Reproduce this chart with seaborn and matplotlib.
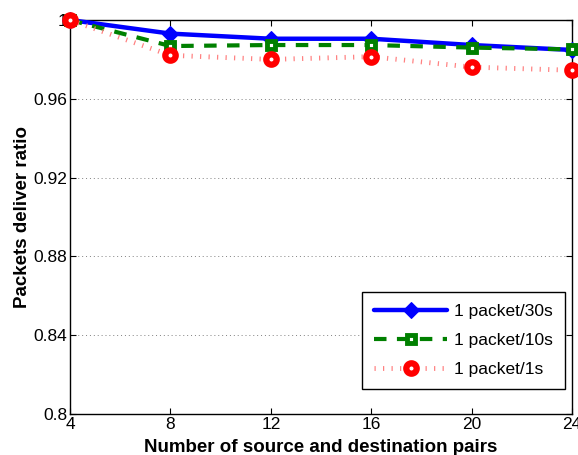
import matplotlib
matplotlib.use("Agg")
import matplotlib.pyplot as plt
import seaborn as sns
import pandas as pd

# données
pairs = [4, 8, 12, 16, 20, 24]
ratio_30s = [1.0, 0.9931, 0.9905, 0.9905, 0.9873, 0.9848]
ratio_10s = [1.0, 0.9868, 0.9873, 0.9873, 0.9860, 0.9851]
ratio_1s = [1.0, 0.9821, 0.9800, 0.9814, 0.9761, 0.9745]

sns.set_style("ticks")
plt.rcParams['font.family'] = ['Liberation Sans', 'DejaVu Sans']
plt.rcParams.update({
    'xtick.direction': 'in',
    'ytick.direction': 'in',
    'xtick.top': True,
    'ytick.right': True,
    'font.size': 12,
    'text.color': 'black',
    'axes.labelcolor': 'black',
    'xtick.color': 'black',
    'ytick.color': 'black',
    'axes.edgecolor': 'black',
})

fig = plt.figure(figsize=(5.78, 4.55), dpi=100)
ax = fig.add_axes([0.121, 0.090, 0.869, 0.866])

df = pd.DataFrame({"pairs": pairs, "30s": ratio_30s, "10s": ratio_10s, "1s": ratio_1s})

sns.lineplot(data=df, x="pairs", y="30s", ax=ax, color="blue", lw=3.2,
             marker="D", markersize=8, markerfacecolor="blue",
             markeredgecolor="blue", label="1 packet/30s", clip_on=False, zorder=3)
sns.lineplot(data=df, x="pairs", y="10s", ax=ax, color="green", lw=3,
             linestyle=(0, (3, 2.5)), marker="s", markersize=6,
             markerfacecolor="white", markeredgewidth=3.5,
             markeredgecolor="green", label="1 packet/10s", clip_on=False, zorder=4)
sns.lineplot(data=df, x="pairs", y="1s", ax=ax, color="red", lw=3.5,
             linestyle=(0, (0.25, 1.5)), marker="o", markersize=7.5,
             markerfacecolor="white", markeredgewidth=4.5,
             markeredgecolor="red", label="1 packet/1s", clip_on=False, zorder=5)
ax.lines[-1].set_color((1, 0.5, 0.5))
ax.lines[-1].set_markeredgecolor("red")

ax.set_xlim(4, 24)
ax.set_ylim(0.8, 1.0)
ax.set_xticks(pairs)
ax.set_yticks([0.8, 0.84, 0.88, 0.92, 0.96, 1.0])
ax.set_yticklabels(["0.8", "0.84", "0.88", "0.92", "0.96", "1"])
ax.yaxis.grid(True, linestyle=(0, (1, 3)), color="gray", lw=0.7)
ax.tick_params(labelsize=12.5, length=4, width=0.8, pad=2)
for s in ax.spines.values():
    s.set_linewidth(1.0)
    s.set_visible(True)

ax.set_xlabel("Number of source and destination pairs", fontsize=13.5, fontweight="bold", labelpad=5)
ax.set_ylabel("Packets deliver ratio", fontsize=13.5, fontweight="bold", labelpad=2)

leg = ax.legend(loc="lower right", bbox_to_anchor=(0.986, 0.063), borderaxespad=0,
                fontsize=12.5, fancybox=False, edgecolor="black", framealpha=1,
                handlelength=4.2, borderpad=0.7, labelspacing=0.8, handletextpad=0.4)
leg.get_frame().set_linewidth(1.0)

fig.savefig("out.png", dpi=100)
